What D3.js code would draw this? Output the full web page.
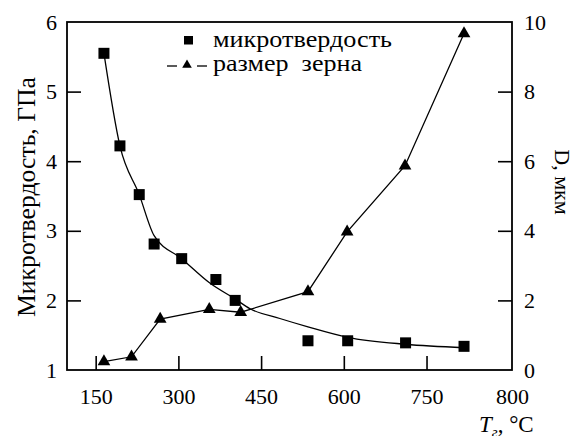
<!DOCTYPE html>
<html>
<head>
<meta charset="utf-8">
<script src="https://cdn.jsdelivr.net/npm/d3@7"></script>
</head>
<body style="margin:0;background:#fff">
<script>
const tempHard = [165, 194, 229, 256, 306, 368, 403, 535, 607, 712, 818];
const hardness = [5.55, 4.22, 3.52, 2.81, 2.60, 2.30, 2.00, 1.42, 1.42, 1.39, 1.34];

const tempGrain = [165, 215, 267, 356, 413, 535, 606, 711, 818];
const grain = [0.24, 0.38, 1.46, 1.74, 1.66, 2.25, 3.97, 5.87, 9.67];

// smooth curve through hardness
const fitTemp = [165, 194, 229, 256, 306, 357, 403, 430, 484, 535, 607, 712, 818];
const fitHard = [5.55, 4.22, 3.52, 2.93, 2.60, 2.25, 2.02, 1.88, 1.74, 1.62, 1.47, 1.37, 1.32];

// ticks
const xTicks = [150, 300, 450, 600, 750, 905];
const xTickLabels = ["150", "300", "450", "600", "750", "800"];
const yLeftTicks = [1, 2, 3, 4, 5, 6];
const yRightTicks = [0, 2, 4, 6, 8, 10];

const legendLabels = ["микротвердость", "размер  зерна"];

const width = 574, height = 436;
const margin = { top: 22, right: 62, bottom: 66, left: 67 };
const serif = "Liberation Serif";

const svg = d3.select("body").append("svg")
  .attr("width", width)
  .attr("height", height)
  .attr("font-family", serif);

const x = d3.scaleLinear().domain([98, 905]).range([margin.left, width - margin.right]);
const yL = d3.scaleLinear().domain([1, 6]).range([height - margin.bottom, margin.top]);
const yR = d3.scaleLinear().domain([0, 10]).range([height - margin.bottom, margin.top]);

const fs = 22;

// axes, ticks point inward
const xAxis = svg.append("g")
  .attr("transform", `translate(0,${height - margin.bottom})`)
  .call(d3.axisBottom(x).tickValues(xTicks).tickSize(-14).tickPadding(18)
    .tickFormat((d, i) => xTickLabels[i]));

const yAxisL = svg.append("g")
  .attr("transform", `translate(${margin.left},0)`)
  .call(d3.axisLeft(yL).tickValues(yLeftTicks).tickSize(-14).tickPadding(10)
    .tickFormat(d3.format("d")));

const yAxisR = svg.append("g")
  .attr("transform", `translate(${width - margin.right},0)`)
  .call(d3.axisRight(yR).tickValues(yRightTicks).tickSize(-14).tickPadding(12)
    .tickFormat(d3.format("d")));

[xAxis, yAxisL, yAxisR].forEach(g => {
  g.attr("font-family", serif).attr("font-size", fs);
  g.select(".domain").remove();
  g.selectAll(".tick line").attr("stroke", "#000").attr("stroke-width", 1.6);
  g.selectAll(".tick text").attr("fill", "#000");
});
// no tick marks on the frame itself
xAxis.selectAll(".tick").filter(d => d === 905).select("line").remove();
yAxisL.selectAll(".tick").filter(d => d === 1 || d === 6).select("line").remove();
yAxisR.selectAll(".tick").filter(d => d === 0 || d === 10).select("line").remove();

// frame
svg.append("rect")
  .attr("x", margin.left)
  .attr("y", margin.top)
  .attr("width", width - margin.left - margin.right)
  .attr("height", height - margin.top - margin.bottom)
  .attr("fill", "none")
  .attr("stroke", "#000")
  .attr("stroke-width", 1.8);

// hardness fitted curve
const fit = fitTemp.map((t, i) => [t, fitHard[i]]);
svg.append("path")
  .datum(fit)
  .attr("fill", "none")
  .attr("stroke", "#000")
  .attr("stroke-width", 1.3)
  .attr("d", d3.line().x(d => x(d[0])).y(d => yL(d[1])).curve(d3.curveMonotoneX));

// grain size line
const gr = tempGrain.map((t, i) => [t, grain[i]]);
svg.append("path")
  .datum(gr)
  .attr("fill", "none")
  .attr("stroke", "#000")
  .attr("stroke-width", 1.3)
  .attr("d", d3.line().x(d => x(d[0])).y(d => yR(d[1])));

// squares
const sq = 11;
svg.selectAll(".sq")
  .data(tempHard.map((t, i) => [t, hardness[i]]))
  .enter().append("rect")
  .attr("x", d => x(d[0]) - sq / 2)
  .attr("y", d => yL(d[1]) - sq / 2)
  .attr("width", sq)
  .attr("height", sq)
  .attr("fill", "#000");

// triangles
const tri = d3.symbol().type(d3.symbolTriangle).size(70);
svg.selectAll(".tri")
  .data(gr)
  .enter().append("path")
  .attr("d", tri)
  .attr("transform", d => `translate(${x(d[0])},${yR(d[1])})`)
  .attr("fill", "#000");

// legend
const lg = svg.append("g").attr("font-size", 24).attr("font-family", serif);
lg.append("rect").attr("x", 184).attr("y", 36).attr("width", 9).attr("height", 8.5).attr("fill", "#000");
lg.append("text").attr("x", 213).attr("y", 47)
  .attr("font-family", serif)
  .attr("textLength", 179).attr("lengthAdjust", "spacingAndGlyphs")
  .text(legendLabels[0]);
lg.append("line").attr("x1", 167).attr("x2", 177).attr("y1", 66).attr("y2", 66)
  .attr("stroke", "#000").attr("stroke-width", 1.3);
lg.append("line").attr("x1", 197).attr("x2", 207).attr("y1", 66).attr("y2", 66)
  .attr("stroke", "#000").attr("stroke-width", 1.3);
lg.append("path").attr("d", d3.symbol().type(d3.symbolTriangle).size(40))
  .attr("transform", "translate(187,65)").attr("fill", "#000");
lg.append("text").attr("x", 213).attr("y", 71)
  .attr("font-family", serif)
  .style("white-space", "pre")
  .attr("textLength", 149).attr("lengthAdjust", "spacingAndGlyphs")
  .text(legendLabels[1]);

// axis titles
svg.append("text")
  .attr("transform", `translate(35,197) rotate(-90)`)
  .attr("text-anchor", "middle")
  .attr("font-family", serif)
  .attr("font-size", 26)
  .attr("textLength", 240).attr("lengthAdjust", "spacingAndGlyphs")
  .text("Микротвердость, ГПа");

svg.append("text")
  .attr("transform", `translate(555,182) rotate(90)`)
  .attr("text-anchor", "middle")
  .attr("font-family", serif)
  .attr("font-size", fs)
  .text("D, мкм");

const xt = svg.append("text")
  .attr("x", 479)
  .attr("y", 432)
  .attr("font-family", serif)
  .attr("font-size", 23);
xt.append("tspan").attr("font-style", "italic").text("T");
xt.append("tspan").attr("font-size", 15).attr("font-style", "italic").attr("dy", 5).text("г");
xt.append("tspan").attr("dy", -5).text(", °C");
</script>
</body>
</html>
